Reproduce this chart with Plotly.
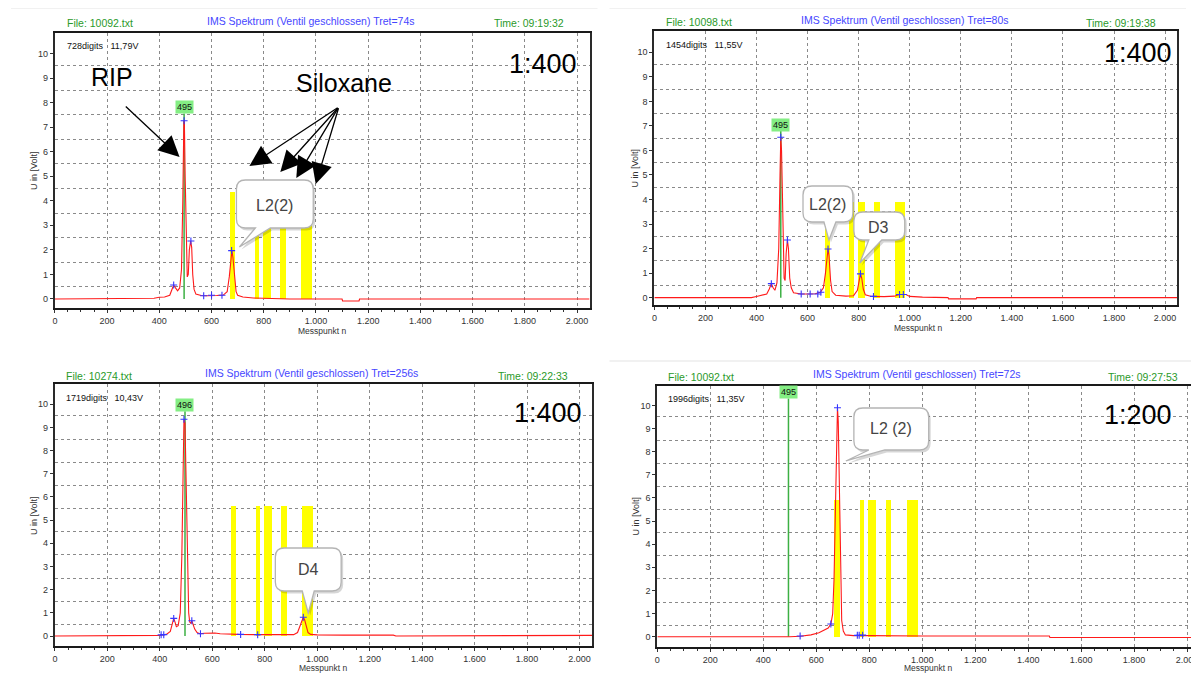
import plotly.graph_objects as go

# page is 1199x673; the html body keeps an 8px margin, so the figure is drawn 8px smaller
PAGE_W, PAGE_H = 1199, 673
OFF = 8
W, H = PAGE_W - OFF, PAGE_H - OFF
FONT = "Liberation Sans Narrow, Liberation Sans, Arial, sans-serif"

# ---------------- data ----------------
p1_points = [(0, 0.0), (360, 0.0), (380, 0.03), (400, 0.07), (420, 0.08), (440, 0.15), (448, 0.35),
             (455, 0.57), (462, 0.45), (470, 0.33), (478, 0.45), (485, 1.2), (490, 4.0), (494, 7.26),
             (496, 7.2), (499, 5.0), (503, 2.0), (507, 0.9), (511, 1.0), (515, 2.0), (520, 2.36),
             (524, 2.1), (528, 1.0), (533, 0.4), (540, 0.2), (560, 0.14), (580, 0.13), (600, 0.15),
             (620, 0.14), (645, 0.16), (660, 0.3), (668, 0.9), (674, 1.7), (678, 1.97), (682, 1.7),
             (688, 0.8), (694, 0.3), (700, 0.15), (720, 0.08), (760, 0.04), (820, 0.02), (900, 0.0),
             (1100, 0.0), (1102, -0.08), (1165, -0.08), (1167, 0.0), (2048, 0.0)]
p2_points = [(0, 0.0), (380, 0.0), (400, 0.05), (420, 0.1), (440, 0.15), (450, 0.35), (458, 0.57),
             (465, 0.4), (472, 0.3), (480, 0.6), (487, 2.0), (492, 5.0), (495, 6.54), (498, 6.0),
             (501, 4.7), (504, 2.5), (508, 0.8), (512, 0.7), (516, 1.8), (521, 2.35), (525, 2.0),
             (530, 0.8), (536, 0.4), (545, 0.2), (575, 0.15), (600, 0.15), (630, 0.16), (650, 0.22),
             (662, 0.4), (670, 1.0), (676, 1.8), (680, 1.98), (684, 1.7), (690, 0.7), (696, 0.25),
             (710, 0.1), (750, 0.06), (780, 0.08), (795, 0.3), (802, 0.75), (807, 0.97), (812, 0.8),
             (818, 0.35), (826, 0.12), (850, 0.05), (900, 0.04), (940, 0.06), (960, 0.13), (985, 0.13),
             (1000, 0.05), (1050, 0.02), (1150, 0.0), (1152, -0.05), (1260, -0.05), (1262, 0.0),
             (2048, 0.0)]
p3_points = [(0, 0.0), (380, 0.0), (400, 0.03), (410, 0.05), (425, 0.07), (440, 0.2), (447, 0.5),
             (453, 0.76), (458, 0.6), (463, 0.4), (470, 0.45), (478, 1.0), (484, 3.5), (488, 7.0),
             (492, 9.35), (496, 9.2), (499, 7.5), (502, 5.5), (506, 2.5), (510, 1.0), (514, 0.6),
             (518, 0.55), (522, 0.66), (527, 0.5), (533, 0.3), (542, 0.15), (552, 0.1), (570, 0.12),
             (590, 0.14), (610, 0.13), (630, 0.1), (660, 0.08), (700, 0.07), (770, 0.06), (850, 0.05),
             (910, 0.06), (925, 0.15), (935, 0.45), (942, 0.72), (947, 0.81), (952, 0.7), (958, 0.4),
             (965, 0.15), (975, 0.07), (1000, 0.05), (1100, 0.04), (1290, 0.04), (1300, 0.0),
             (1880, 0.0), (1890, 0.03), (2048, 0.03)]
p4_points = [(0, 0.0), (100, 0.0), (110, -0.03), (280, -0.03), (290, 0.0), (500, 0.0), (540, 0.02),
             (580, 0.08), (610, 0.17), (630, 0.27), (645, 0.38), (655, 0.55), (662, 1.0), (667, 2.5),
             (672, 6.0), (677, 9.3), (680, 9.9), (683, 9.3), (686, 7.0), (689, 4.0), (692, 2.0),
             (696, 0.7), (702, 0.25), (710, 0.08), (740, 0.05), (770, 0.06), (800, 0.05), (1000, 0.03),
             (1480, 0.03), (1482, -0.03), (1900, -0.03), (1910, 0.0), (1920, -0.03), (2048, -0.03)]

# "+" peak markers
m1_points = [(455, 0.57), (495, 7.26), (521, 2.36), (570, 0.13), (600, 0.15), (640, 0.15), (677, 1.97)]
m2_points = [(458, 0.57), (495, 6.54), (521, 2.35), (575, 0.15), (610, 0.15), (640, 0.15), (652, 0.22),
             (680, 1.98), (807, 0.97), (858, 0.05), (960, 0.13), (975, 0.13)]
m3_points = [(405, 0.05), (415, 0.06), (453, 0.76), (492, 9.35), (522, 0.66), (555, 0.1), (708, 0.07),
             (773, 0.06), (947, 0.81)]
m4_points = [(539, 0.03), (655, 0.55), (680, 9.9), (755, 0.06), (762, 0.06), (775, 0.07)]

# yellow siloxane windows
bar_left = [670, 765, 797, 863, 943, 963]
bar_right = [690, 782, 826, 884, 963, 984]
bar_height = [4.36, 3.91, 5.61, 5.94]

# RIP marker (green)
rip_pos = [495, 495, 496, 495]
rip_label = ["495", "495", "496", "495"]
rip_label_y = [7.82, 7.04, 9.97, 10.57]
rip_line_top = [7.55, 6.8, 9.7, 10.3]

file_names = ["File: 10092.txt", "File: 10098.txt", "File: 10274.txt", "File: 10092.txt"]
titles = ["IMS Spektrum (Ventil geschlossen) Tret=74s", "IMS Spektrum (Ventil geschlossen) Tret=80s",
          "IMS Spektrum (Ventil geschlossen) Tret=256s", "IMS Spektrum (Ventil geschlossen) Tret=72s"]
times = ["Time: 09:19:32", "Time: 09:19:38", "Time: 09:22:33", "Time: 09:27:53"]
digits = ["728digits\u00a0\u00a0 11,79V", "1454digits\u00a0\u00a0 11,55V",
          "1719digits\u00a0\u00a0 10,43V", "1996digits\u00a0\u00a0 11,35V"]
ratios = ["1:400", "1:400", "1:400", "1:200"]

xtick_vals = [0, 200, 400, 600, 800, 1000, 1200, 1400, 1600, 1800, 2000]
xtick_text = ["0", "200", "400", "600", "800", "1.000", "1.200", "1.400", "1.600", "1.800", "2.000"]
ytick_vals = [0, 1, 2, 3, 4, 5, 6, 7, 8, 9, 10]
ytick_text = ["0", "1", "2", "3", "4", "5", "6", "7", "8", "9", "10"]
ygrid_vals = [0.5, 1.5, 2.5, 3.5, 4.5, 5.5, 6.5, 7.5, 8.5, 9.5]

# ---------------- layout geometry (page pixels) ----------------
panels = [
    dict(l=52, r=588, t=32.6, b=308, xmax=2048, ymin=-0.367, ymax=10.85, mirror_y=True,
         file=(62, 23), title=(308, 21), time=(527, 23), dig=(62, 46), ratio=(541, 64),
         ylab=(31, 170), xlab=(320, 331)),
    dict(l=653, r=1177.3, t=31, b=305, xmax=2048, ymin=-0.30, ymax=10.87, mirror_y=True,
         file=(663, 22), title=(904, 20), time=(1121, 23), dig=(663, 45), ratio=(1138, 53),
         ylab=(634, 168), xlab=(917, 328)),
    dict(l=52, r=590.6, t=384.3, b=646, xmax=2048, ymin=-0.43, ymax=10.86, mirror_y=True,
         file=(61, 376), title=(309, 373), time=(531, 376), dig=(61, 398), ratio=(546, 413),
         ylab=(31, 515), xlab=(321, 668)),
    dict(l=656, r=1199, t=385.7, b=646.7, xmax=2045, ymin=-0.43, ymax=10.85, mirror_y=False,
         file=(665, 377), title=(916, 374), time=(1143, 377), dig=(665, 399), ratio=(1138, 415),
         ylab=(635, 516), xlab=(927, 668)),
]

callouts = [
    dict(box=(234, 180, 311, 228), base=(253, 268), tip=(237, 247), text="L2(2)", tp=(272, 205)),
    dict(box=(802, 186, 852, 222), base=(823, 835), tip=(828, 240), text="L2(2)", tp=(827, 204)),
    dict(box=(853, 212, 904, 240), base=(868, 881), tip=(859, 263), text="D3", tp=(878, 227)),
    dict(box=(273, 548, 339, 591), base=(300, 312), tip=(306, 613), text="D4", tp=(306, 569)),
    dict(box=(853, 408, 928, 450), base=(868, 884), tip=(845, 461), text="L2 (2)", tp=(890, 429)),
]


def px(x):
    return (x - OFF) / W


def py(y):
    return 1 - (y - OFF) / H


def callout_path(box, base, tip, dx=0, dy=0, r=9):
    x0, y0, x1, y1 = box
    a, b = base
    tx, ty = tip

    def P(x, y):
        return f"{px(x + dx):.5f},{py(y + dy):.5f}"
    return (f"M {P(x0 + r, y0)} L {P(x1 - r, y0)} Q {P(x1, y0)} {P(x1, y0 + r)} "
            f"L {P(x1, y1 - r)} Q {P(x1, y1)} {P(x1 - r, y1)} L {P(b, y1)} L {P(tx, ty)} L {P(a, y1)} "
            f"L {P(x0 + r, y1)} Q {P(x0, y1)} {P(x0, y1 - r)} L {P(x0, y0 + r)} Q {P(x0, y0)} {P(x0 + r, y0)} Z")


fig = go.Figure()
all_points = [p1_points, p2_points, p3_points, p4_points]
all_marks = [m1_points, m2_points, m3_points, m4_points]
annotations = []
shapes = []
layout_axes = {}


def txt(t, pos, size, color, xanchor="left", angle=0):
    annotations.append(dict(text=t, x=px(pos[0]), y=py(pos[1]), xref="paper", yref="paper",
                            xanchor=xanchor, yanchor="middle", showarrow=False, textangle=angle,
                            font=dict(family=FONT, size=size, color=color)))


for i, g in enumerate(panels):
    n = "" if i == 0 else str(i + 1)
    xa, ya = "x" + n, "y" + n
    fig.add_trace(go.Bar(
        x=[(a + b) / 2 for a, b in zip(bar_left, bar_right)],
        y=[bar_height[i]] * len(bar_left),
        width=[b - a for a, b in zip(bar_left, bar_right)],
        marker=dict(color="#ffff00", line=dict(width=0)),
        xaxis=xa, yaxis=ya, showlegend=False, hoverinfo="skip"))
    fig.add_trace(go.Scatter(x=[rip_pos[i], rip_pos[i]], y=[0, rip_line_top[i]], mode="lines",
                             line=dict(color="#3cb043", width=1.5), xaxis=xa, yaxis=ya,
                             showlegend=False, hoverinfo="skip"))
    sx, sy = zip(*all_points[i])
    fig.add_trace(go.Scatter(x=list(sx), y=list(sy), mode="lines",
                             line=dict(color="#ff1a1a", width=1.1), xaxis=xa, yaxis=ya,
                             showlegend=False))
    mx, my = zip(*all_marks[i])
    fig.add_trace(go.Scatter(x=list(mx), y=list(my), mode="markers",
                             marker=dict(symbol="cross-thin", size=5, line=dict(color="#3535ff", width=1.1)),
                             xaxis=xa, yaxis=ya, showlegend=False))

    layout_axes["xaxis" + n] = dict(
        domain=[px(g["l"]), min(px(g["r"]), 1.0)], range=[0, g["xmax"]], anchor=ya,
        tickmode="array", tickvals=xtick_vals, ticktext=xtick_text,
        ticks="outside", ticklen=3, tickcolor="#333", ticklabeloverflow="allow",
        showgrid=True, gridcolor="#8a8a8a", griddash="3px,3px", gridwidth=1,
        showline=True, linecolor="#1a1a1a", linewidth=2, mirror=True, zeroline=False,
        tickfont=dict(family=FONT, size=9, color="#333"),
        minor=dict(tickmode="linear", tick0=0, dtick=50, ticks="outside", ticklen=2,
                   tickcolor="#333", showgrid=False),
        fixedrange=True)
    layout_axes["yaxis" + n] = dict(
        domain=[py(g["b"]), py(g["t"])], range=[g["ymin"], g["ymax"]], anchor=xa,
        tickmode="array", tickvals=ytick_vals, ticktext=ytick_text,
        ticks="outside", ticklen=3, tickcolor="#333", showgrid=False,
        minor=dict(tickmode="array", tickvals=ygrid_vals, showgrid=True, gridcolor="#8a8a8a",
                   griddash="3px,3px", gridwidth=1, ticks=""),
        showline=True, linecolor="#2a2a2a", linewidth=2, mirror=g["mirror_y"], zeroline=False,
        tickfont=dict(family=FONT, size=9, color="#333"), fixedrange=True)

    txt(file_names[i], g["file"], 10.5, "#2a9a2a")
    txt(titles[i], g["title"], 10.5, "#4646ff", "center")
    txt(times[i], g["time"], 10.5, "#2a9a2a", "center")
    txt(digits[i], g["dig"], 9, "#111")
    txt(ratios[i], g["ratio"], 27, "#000", "center")
    txt("U in [Volt]", g["ylab"], 9, "#333", "center", -90)
    txt("Messpunkt n", g["xlab"], 8.5, "#333", "center")
    annotations.append(dict(text=rip_label[i], x=rip_pos[i], y=rip_label_y[i], xref=xa, yref=ya,
                            showarrow=False, bgcolor="#84ee84", borderpad=1, xanchor="center",
                            yanchor="middle", font=dict(family=FONT, size=9, color="#111")))

for c in callouts:
    shapes.append(dict(type="path", xref="paper", yref="paper",
                       path=callout_path(c["box"], c["base"], c["tip"], 2, 2.5),
                       fillcolor="rgba(0,0,0,0.16)", line=dict(width=0), layer="above"))
    shapes.append(dict(type="path", xref="paper", yref="paper",
                       path=callout_path(c["box"], c["base"], c["tip"]),
                       fillcolor="white", line=dict(color="#b4b4b4", width=1.3), layer="above"))
    txt(c["text"], c["tp"], 16, "#444", "center")

# RIP / Siloxane labels with arrows (panel 1)
txt("RIP", (109, 77), 25, "#000", "center")
txt("Siloxane", (342, 83), 25, "#000", "center")
arrow_tails = [(121.7, 105), (336.7, 106.7), (336.7, 106.7), (336.7, 106.7), (336.7, 106.7)]
arrow_tips = [(177, 157), (247, 166), (278, 172), (294, 178), (313.5, 184)]
for (tx, ty), (hx, hy) in zip(arrow_tails, arrow_tips):
    annotations.append(dict(text="", x=px(hx), y=py(hy), xref="paper", yref="paper",
                            ax=tx - hx, ay=ty - hy, axref="pixel", ayref="pixel",
                            showarrow=True, arrowhead=2, arrowsize=3.2, arrowwidth=1.3,
                            arrowcolor="#000"))

for (x0, y0, x1, y1) in [(8, 8, 596, 8), (608, 8, 1186, 8), (608, 361, 1199, 361),
                         (592, 540, 592, 600)]:
    shapes.append(dict(type="line", xref="paper", yref="paper", x0=px(x0), y0=py(y0), x1=px(x1), y1=py(y1),
                       line=dict(color="#ececec", width=1.5), layer="below"))

fig.update_layout(width=W, height=H, margin=dict(l=0, r=0, t=0, b=0),
                  paper_bgcolor="white", plot_bgcolor="white", barmode="overlay", bargap=0,
                  showlegend=False, annotations=annotations, shapes=shapes, **layout_axes)

fig.write_html("out.html")
